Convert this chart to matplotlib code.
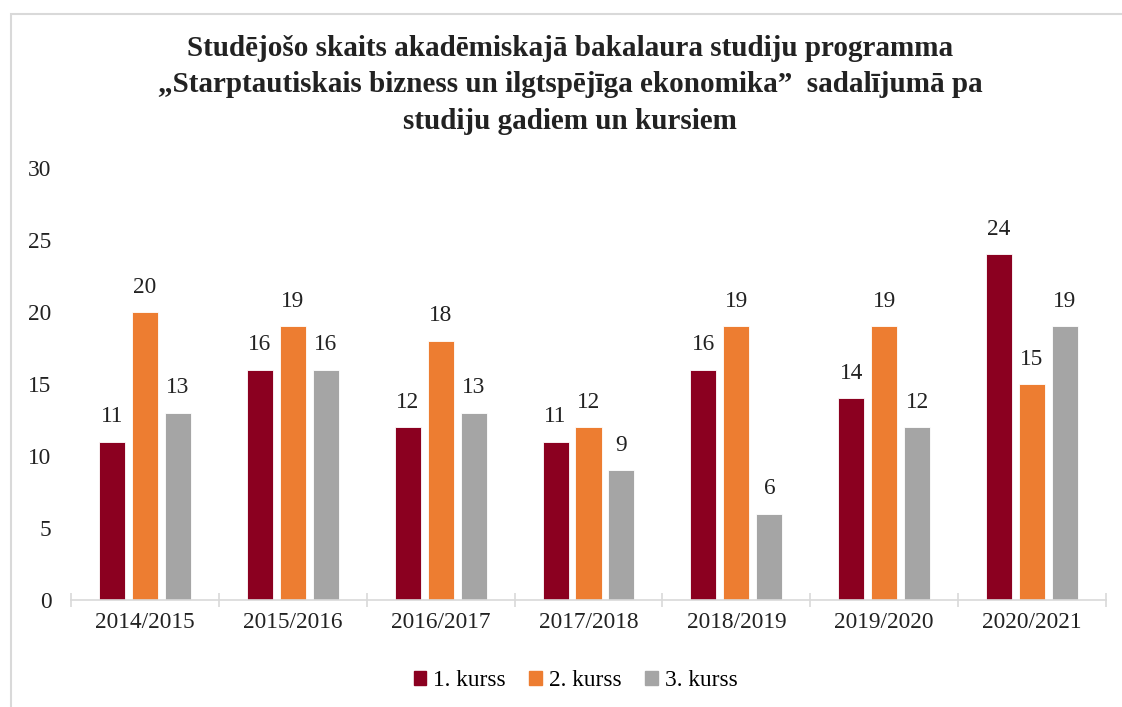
import matplotlib
matplotlib.use("Agg")
import matplotlib.pyplot as plt
import numpy as np
from matplotlib.patches import Rectangle

years = ["2014/2015", "2015/2016", "2016/2017", "2017/2018", "2018/2019", "2019/2020", "2020/2021"]
series_names = ["1. kurss", "2. kurss", "3. kurss"]
kurss1 = [11, 16, 12, 11, 16, 14, 24]
kurss2 = [20, 19, 18, 12, 19, 19, 15]
kurss3 = [13, 16, 13, 9, 6, 12, 19]
colors = ["#8B0020", "#ED7D31", "#A5A5A5"]
title = ("Studējošo skaits akadēmiskajā bakalaura studiju programma\n"
         "„Starptautiskais bizness un ilgtspējīga ekonomika”  sadalījumā pa\n"
         "studiju gadiem un kursiem")

plt.rcParams['font.family'] = ['Liberation Serif', 'DejaVu Serif']

fig = plt.figure(figsize=(11.22, 7.07), dpi=100)
ax = fig.add_axes([71/1122, 1-600/707, (1106-71)/1122, (600-168)/707])

fs = 16.8
x = np.arange(len(years))
w = 0.176
step = 0.223
for i, (vals, c, name) in enumerate(zip([kurss1, kurss2, kurss3], colors, series_names)):
    pos = x + (i-1)*step
    ax.bar(pos, vals, width=w, color=c, edgecolor='white', linewidth=0.6, label=name)
    for p, v in zip(pos, vals):
        ax.text(p, v + 1.0, str(v), ha='center', va='bottom', fontsize=fs, color='#222222')

ax.set_xlim(-0.5, len(years)-0.5)
ax.set_ylim(0, 30)
ax.set_yticks([0, 5, 10, 15, 20, 25, 30])
ax.tick_params(axis='y', length=0, labelsize=fs, pad=14, colors='#222222')
ax.set_xticks(x)
ax.set_xticklabels(years)
ax.tick_params(axis='x', which='major', length=0, labelsize=fs, pad=9, colors='#222222')
ax.set_xticks(np.arange(-0.5, len(years), 1.0), minor=True)
ax.tick_params(axis='x', which='minor', length=10, direction='inout', color='#D9D9D9', width=1.2)
for s in ['top', 'right', 'left']:
    ax.spines[s].set_visible(False)
ax.spines['bottom'].set_color('#D9D9D9')
ax.spines['bottom'].set_linewidth(1.2)

fig.text(0.508, 1-35/707, title, ha='center', va='top', fontsize=21, fontweight='bold',
         linespacing=1.45, color='#222222')

handles = [Rectangle((0, 0), 1, 1, color=c) for c in colors]
fig.legend(handles, series_names, loc='center', bbox_to_anchor=(0.513, 1-681/707),
           ncol=3, frameon=False, fontsize=fs, handlelength=0.55, handleheight=0.55,
           handletextpad=0.3, columnspacing=1.0)

border = Rectangle((11/1122, -0.1), 1.2, 1-14/707+0.1, transform=fig.transFigure,
                   fill=False, edgecolor='#D9D9D9', linewidth=1.5)
fig.patches.append(border)

fig.savefig("out.png", dpi=100, facecolor='white')
